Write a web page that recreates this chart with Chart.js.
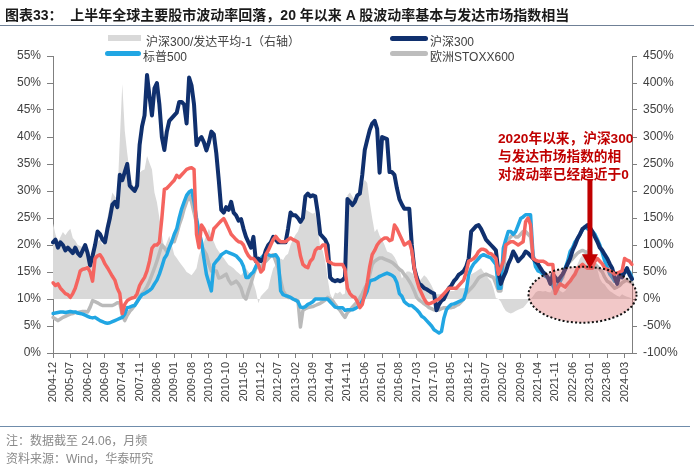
<!DOCTYPE html>
<html><head><meta charset="utf-8">
<script src="https://cdn.jsdelivr.net/npm/chart.js@4.4.1/dist/chart.umd.min.js"></script>
<style>
html,body{margin:0;padding:0;background:#fff;}
#wrap{position:relative;width:700px;height:467px;overflow:hidden;}
#c{position:absolute;left:0;top:0;}
.abs{position:absolute;white-space:nowrap;line-height:1;}
#title{left:5px;top:4px;font:bold 14px "Liberation Sans","Noto Sans CJK SC",sans-serif;color:#1a1a1a;}
#tline{left:0;top:25px;width:694px;height:1px;background:#6f8096;}
#bline{left:0;top:426px;width:690px;height:1px;background:#6f8cab;}
.foot{left:6px;font:12px "Liberation Sans","Noto Sans CJK SC",sans-serif;color:#8a8a8a;}
.leg{font:12px "Liberation Sans","Noto Sans CJK SC",sans-serif;color:#404040;}
.sw{position:absolute;}
.note{left:498px;font:bold 13.7px "Liberation Sans","Noto Sans CJK SC",sans-serif;color:#c00000;}
</style></head>
<body>
<div id="wrap">
<canvas id="c" width="700" height="467"></canvas>
<div class="abs" id="title">图表33：&nbsp;&nbsp;上半年全球主要股市波动率回落，20 年以来 A 股波动率基本与发达市场指数相当</div>
<div class="abs" id="tline"></div>
<div class="sw" style="left:108px;top:35px;width:33px;height:6px;background:#d9d9d9;"></div>
<div class="abs leg" style="left:146px;top:32px;">沪深300/发达平均-1（右轴）</div>
<div class="sw" style="left:390px;top:35.5px;width:38px;height:5px;border-radius:3px;background:#10306e;"></div>
<div class="abs leg" style="left:430px;top:32px;">沪深300</div>
<div class="sw" style="left:105px;top:50.5px;width:36px;height:5px;border-radius:3px;background:#21a6e3;"></div>
<div class="abs leg" style="left:143px;top:47px;">标普500</div>
<div class="sw" style="left:390px;top:50.5px;width:38px;height:5px;border-radius:3px;background:#bdbdbd;"></div>
<div class="abs leg" style="left:430px;top:47px;">欧洲STOXX600</div>
<div class="abs note" style="top:127px;">2020年以来，沪深300</div>
<div class="abs note" style="top:145px;">与发达市场指数的相</div>
<div class="abs note" style="top:163px;">对波动率已经趋近于0</div>
<div class="abs" id="bline"></div>
<div class="abs foot" style="top:431px;">注：数据截至 24.06，月频</div>
<div class="abs foot" style="top:449px;">资料来源：Wind，华泰研究</div>
</div>
<script>
// Monthly categories 2004-12 .. 2024-06
const startYear = 2004, startMonth = 12, nMonths = 235;
const months = [];
for (let k = 0; k < nMonths; k++) {
  const m = (startMonth - 1) + k;
  months.push((startYear + Math.floor(m / 12)) + '-' + String(m % 12 + 1).padStart(2, '0'));
}
const labelEvery = 7;

const leftTicks = {min: 0, max: 55, step: 5};
const rightTicks = {min: -100, max: 450, step: 50};

// 沪深300 volatility (%)
const hs300 = [20.5,
 21,19.5,20.5,20,19,19.5,19,18.5,19.5,18.5,18,19,
 20,18.5,16.2,18,20,22.5,22,21,20.5,23,25,27.5,
 28,27,33,32,33.5,35,31,30.5,30,31,38.5,42,
 44,51.5,47.5,44,49,50,46,40,37.6,41,43,43.5,
 44,44.5,46.5,46.5,46,42.5,51,49.5,46,38.5,39.5,40,
 39,37.5,39,41,40.5,37,32,26.5,26,27,26.5,28,
 26,25.5,24.5,24.8,23,21.5,20.5,19.5,21.5,17,17.5,17,
 17.5,19,20,20.5,21.5,21,20.5,20.5,20.5,20.5,23,26,
 25.5,25.5,25,24.3,25,29,29.5,29,29.2,29,26,22,
 21.5,21,20,14,13.5,13.3,13.5,13.3,13.5,14,28.5,28,
 27.4,28,29.2,29.5,33,37.6,39.5,41.3,42.5,43,41.5,33.4,
 40,39.8,39.6,33.5,33.5,33,30.5,28.5,27.5,26.7,26.7,26.7,
 20,15.7,14,12.8,12.5,12,11.8,11.5,11.2,11,7.9,9,
 9.7,10,11,12,12.5,13.3,13.8,14.5,14.8,15.2,16,17.5,
 22.5,23,23.5,23.7,23,22,21,20.5,20,19.5,19,15,
 12.8,14,15,16.5,17.5,18.8,18,17,17.5,18,18.8,18.5,
 18,17.5,17,16.5,15.7,15,14.6,14,12.8,14.6,14,13.3,
 14,14.6,15.5,16.5,17.5,19,20,21.2,22,23,23.3,23.7,
 23.2,22.5,21.5,20.6,19.5,19,18.2,17.5,16.5,15.7,14,12.8,
 14.6,14,15,15.7,14.5,13.7];

// 标普500 volatility (%)
const spx = [7.3,
 7.4,7.5,7.6,7.6,7.5,7.6,7.7,7.6,7.6,7.4,7.3,7.2,
 7,6.8,6.6,6.5,6.6,6.3,6,5.8,5.6,5.5,5.6,5.8,
 6,6.2,6.4,6.6,7.2,8.4,8.5,8.7,8.8,9.5,10.2,10.8,
 11,11.3,11.6,12,12.8,13.5,14.6,16,17.5,18.2,19.5,20.6,
 22,23,25,26.7,28,29.2,29.8,30.1,28,25,22.5,20.6,
 17.5,14.6,13,11.5,16.4,17,17.5,18.2,18.5,18.8,18.6,18.4,
 18.2,18,17.5,17,16,14,14,14.6,15,16,17,17.5,
 18,18.2,18.2,18,18,18.2,17.5,11.5,10.8,10.6,10.5,10.3,
 10,9.8,9.5,8.5,8.4,8.6,9,9.2,9.5,10,10,10,
 10,10,10,9.5,9,8.5,8.4,8.4,8.4,7.9,8,8,
 8,8.2,8.5,9,9.7,10.5,11.5,13.3,13.5,13.6,13.9,14.2,
 14.4,14.6,14.8,14.6,14.4,14,13,11,10.5,9.5,9.1,8.8,
 8.8,8.4,8,7.5,6.8,6.5,6,5.5,5,4.3,4,3.7,
 4,6.5,8,8.6,9,9.1,9.3,9.5,9.7,10,11.5,14.5,
 15.7,16.5,17,17.5,18,18.2,18,17.8,17.6,17,16.4,12,
 12,19.4,21,22.5,22.5,22,22.5,23.7,24.9,25.2,25.6,25.6,
 25.6,18.2,16,15.2,15,14.6,14.2,13.9,13,12.5,11.5,12.5,
 13.3,14.5,15.7,17,18.8,19.5,20.6,21.2,22,22.8,23.4,23,
 22.8,22.5,22,21,20,18.5,17,15.8,14.6,14,13.3,13.5,
 14.6,14.8,15,15,15,14];

// Red line (unlabelled in legend) volatility (%)
const redLine = [13,
 12.5,12.8,12,11.5,11,10.8,10.3,11,12,13.5,15.2,15.5,
 15.6,15.8,15,13.3,17.5,18,18.2,17.5,16.5,15.8,15,14.2,
 13.5,12,11,7.3,9,9.7,10,10.2,10.3,11,12.5,13.3,
 14,15.2,17,19.4,20,20,20.5,25,30.3,30.5,31,31.5,
 32,32.9,32.5,33,33.5,34,34.2,34.3,34,22,19.5,23.7,
 23,22,21,21,23,23.5,24,24.5,24.9,24,23,22,
 21.5,21,20.6,20.5,20,18.8,18,17.5,17.5,17,16.4,15,
 15.5,18.2,19,20,21,21.6,21,20.6,20.6,20.6,21,21.3,
 21,20.8,20.5,18,16.4,16,15.8,17,17.5,19,19.5,19.4,
 20,20,17,16.8,16.5,16.4,16.4,16.4,16.4,15.5,12,11,
 10.5,10.3,9.5,8.4,9,10.9,13,16,18.2,19,20,20.6,
 21,21.3,21.3,20.8,21,23.7,23,22,21,20,20.3,20.6,
 19,15.7,13.5,12,11,10,9.3,9.1,9.3,9.5,9.8,10,
 10.5,11,11.5,12,12,12,12,12.5,13,13.5,15,17,
 17.2,17.5,18,18.8,19.2,19.2,19,18.5,18.4,18,17.5,14.6,
 15.7,17,20,20.3,20.6,20.6,20.3,20,20.3,20.6,24.3,25,
 23.7,17.5,17.2,17,17,17,16.8,16.4,16.4,16.4,11,12,
 12.8,12.5,12.2,12.8,13.3,14,14.6,15.7,16,16.4,16,15.7,
 15.7,15.7,17,17.5,17,16.5,15.7,15.5,15.2,15,14.6,14.8,
 15,15.2,17.5,17.2,17,16.4];

// 欧洲STOXX600 volatility (%)
const stoxx = [6.6,
 6.3,6,6.3,6.6,6.8,7,7.2,7.3,7.5,7.5,7.6,7.7,
 7.7,7.6,8.5,9.7,9.5,9.3,9,8.8,8.8,8.8,8.8,8.8,
 9,9.3,9.3,7,6,7,7.7,8.2,8.8,9.5,10.5,11,
 11.5,12.3,13.3,14.5,15.7,17,18.5,20,19.5,18.8,19.5,20.6,
 20.6,22,23.7,25,26.7,28,29.2,28,26,24,22,20,
 19,18.2,16.5,15.2,15.2,15.2,13.9,14,14.3,14.6,13.5,12.8,
 13,13.3,12.8,12,10.5,10,11.5,12.8,14.5,15.7,16,16,
 16.5,17,17.5,18,18.2,17,15.7,13.5,11.5,10.8,10.3,10.3,
 10,9.8,9.7,4.8,7.9,8.2,8.4,8.5,8.6,8.8,9,9.2,
 9.5,9.8,10.3,10,9.7,9,8.4,7.9,7.2,6.6,7.5,7.9,
 8.5,9,9.5,10.2,11,12,12.8,14.5,16.4,17,17.3,17.6,
 17.6,17.4,17.2,17,16.8,16.4,16,15.5,15.2,14.5,14,13.3,
 12.5,11.5,10.3,9.8,9.5,9.1,8.8,8.4,8.2,8,7.9,8,
 8.2,8.4,8.4,8.4,8.4,8.5,8.8,9,9.5,10,11,11.5,
 12,12.5,13.2,13.9,14.2,14.4,14.6,14.4,14.2,14,12.8,11.5,
 11.5,14.6,20,21,21.5,22,21.5,21.5,22,22.5,22.5,22,
 21.5,18,16.5,16,15.5,15,14.5,14,13.3,13,12.8,13,
 13.3,14,15.5,16.5,17,17.5,18,18.5,18.8,19,18.8,18.5,
 18,17,16.5,16,15.5,15,14,13.3,13,12.5,12,12.2,
 12.5,13,13.3,13.5,13.2,13];

// 沪深300/发达平均-1 (right axis, %)
const relVol = [140,
 120,106,115,124,118,125,130,113,108,100,98,96,
 95,85,69,80,90,106,110,100,120,150,175,197,
 190,185,294,398,312,270,234,215,203,210,234,238,
 240,265,252,240,197,179,150,120,93,105,117,100,
 82,76,69,63,57,50,47,44,50,57,80,95,
 106,118,130,118,106,95,88,82,76,69,63,60,
 57,52,48,44,50,57,50,44,30,15,-8,5,
 10,15,20,40,57,63,70,75,72,80,84,100,
 110,119,125,140,150,166,163,160,158,160,130,96,
 90,70,38,10,0,12,10,14,8,10,192,197,
 190,183,195,205,210,221,215,179,150,124,130,117,
 110,100,88,86,84,78,69,55,38,45,51,51,
 48,45,40,33,38,44,40,33,25,15,9,9,
 9,10,12,14,15,15,18,20,20,20,22,30,
 46,48,51,54,57,50,45,38,33,20,2,0,
 -5,-15,-22,-25,-27,-25,-22,-20,-18,-16,-11,-5,
 0,5,12,15,15,14,15,13,12,20,27,22,
 15,12,15,22,30,46,55,65,75,82,88,92,
 95,88,75,55,38,30,27,20,15,12,9,6,
 4,9,6,4,3,0];

const FONT = '"Liberation Sans","Noto Sans CJK SC",sans-serif';
const AXIS = '#7f7f7f';

const annot = {
  id: 'annot',
  afterDatasetsDraw(chart) {
    const ctx = chart.ctx, xs = chart.scales.x, yr = chart.scales.y1;
    // ellipse
    const cx = xs.getPixelForValue(214), cy = yr.getPixelForValue(8);
    ctx.save();
    ctx.beginPath();
    ctx.ellipse(cx, cy, 54, 28, 0, 0, Math.PI * 2);
    ctx.fillStyle = 'rgba(220,110,110,0.38)';
    ctx.fill();
    ctx.setLineDash([2, 2.2]);
    ctx.lineWidth = 2;
    ctx.strokeStyle = '#111';
    ctx.stroke();
    ctx.restore();
    // arrow
    const ax = xs.getPixelForValue(217);
    const yTop = yr.getPixelForValue(222), yHead = yr.getPixelForValue(83), yTip = yr.getPixelForValue(56);
    ctx.save();
    ctx.fillStyle = '#c00000';
    ctx.fillRect(ax - 2.5, yTop, 5, yHead - yTop + 1);
    ctx.beginPath();
    ctx.moveTo(ax - 8, yHead);
    ctx.lineTo(ax + 8, yHead);
    ctx.lineTo(ax, yTip);
    ctx.closePath();
    ctx.fill();
    ctx.restore();
  }
};

new Chart(document.getElementById('c'), {
  type: 'line',
  data: {
    labels: months,
    datasets: [
      {label: '日经225', data: redLine, yAxisID: 'y', borderColor: '#f5645f', borderWidth: 3.5, pointRadius: 0, fill: false, order: 1},
      {label: '沪深300', data: hs300, yAxisID: 'y', borderColor: '#10306e', borderWidth: 4, pointRadius: 0, fill: false, order: 2},
      {label: '标普500', data: spx, yAxisID: 'y', borderColor: '#21a6e3', borderWidth: 3.5, pointRadius: 0, fill: false, order: 3},
      {label: '欧洲STOXX600', data: stoxx, yAxisID: 'y', borderColor: '#bababa', borderWidth: 3.5, pointRadius: 0, fill: false, order: 4},
      {label: '沪深300/发达平均-1（右轴）', data: relVol, yAxisID: 'y1', borderColor: '#d9d9d9', borderWidth: 0, backgroundColor: '#d9d9d9', pointRadius: 0, fill: 'origin', order: 5}
    ]
  },
  options: {
    responsive: false,
    animation: false,
    devicePixelRatio: 1,
    layout: {padding: {top: 56, left: 0, right: 0, bottom: 0}},
    elements: {line: {tension: 0, borderJoinStyle: 'round', borderCapStyle: 'round'}},
    plugins: {legend: {display: false}, tooltip: {enabled: false}, title: {display: false}},
    scales: {
      x: {
        type: 'category',
        offset: false,
        grid: {drawOnChartArea: false, tickLength: 5, color: AXIS},
        border: {color: AXIS},
        ticks: {
          autoSkip: false, minRotation: 90, maxRotation: 90, padding: 4,
          color: '#404040', font: {family: FONT, size: 11},
          callback: (v, i) => (i % labelEvery === 0 ? months[i] : null)
        },
        afterFit: s => { s.height = 114; }
      },
      y: {
        position: 'left', min: leftTicks.min, max: leftTicks.max,
        grid: {drawOnChartArea: false, tickLength: 6, color: AXIS},
        border: {color: AXIS},
        ticks: {stepSize: leftTicks.step, padding: 6, color: '#404040', font: {family: FONT, size: 12}, callback: v => v + '%'},
        afterFit: s => { s.width = 53; }
      },
      y1: {
        position: 'right', min: rightTicks.min, max: rightTicks.max,
        grid: {drawOnChartArea: false, tickLength: 5, color: AXIS},
        border: {color: AXIS},
        ticks: {stepSize: rightTicks.step, padding: 6, color: '#404040', font: {family: FONT, size: 12}, callback: v => v + '%'},
        afterFit: s => { s.width = 68; }
      }
    }
  },
  plugins: [annot]
});
</script>
</body></html>
